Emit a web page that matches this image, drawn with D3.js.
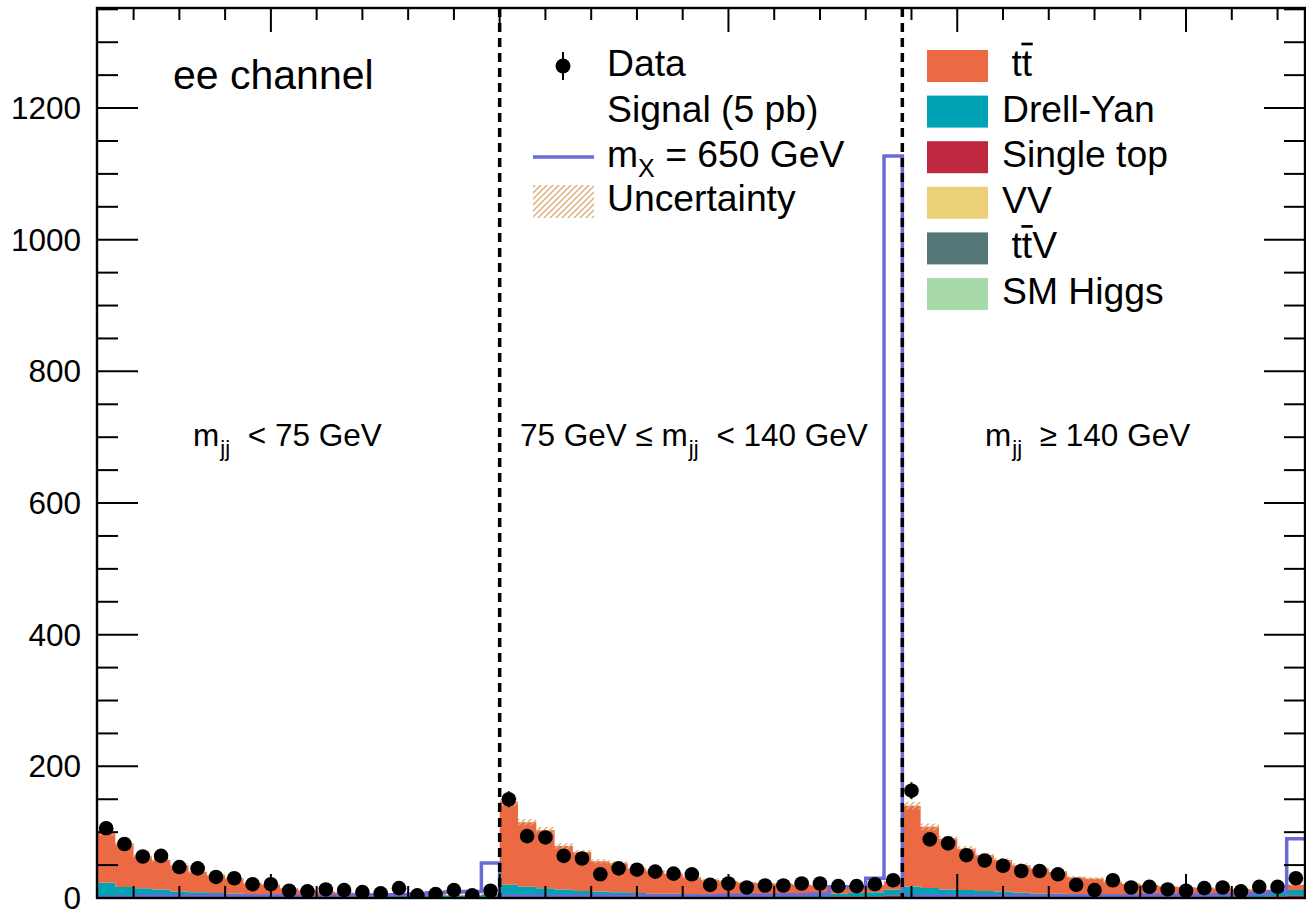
<!DOCTYPE html>
<html><head><meta charset="utf-8">
<script src="https://cdn.jsdelivr.net/npm/d3@7"></script>
<style>html,body{margin:0;padding:0;background:#fff;overflow:hidden;} svg{display:block;} text{font-family:"Liberation Sans",Arial,Helvetica,sans-serif;fill:#000;}</style>
</head><body><svg id="c" width="1306" height="909"></svg>
<script>
// ---------------- data (66 bins: 3 m_jj regions x 22 bins) ----------------
const yTicks = [0, 200, 400, 600, 800, 1000, 1200];
const regionLabels = [["m", "jj", " < 75 GeV"], ["75 GeV ≤ m", "jj", " < 140 GeV"], ["m", "jj", " ≥ 140 GeV"]];
const legendLeft = ["Data", "Signal (5 pb)", "m_X = 650 GeV", "Uncertainty"];
const legendRight = ["tt̄", "Drell-Yan", "Single top", "VV", "tt̄V", "SM Higgs"];

const ttbar = [
  77, 66, 48, 45, 40, 31, 27, 23, 17, 14, 10, 7, 5, 5, 4, 3, 3, 2, 2, 1, 1, 1,
  126, 98, 88, 66, 59, 46, 44, 37, 35, 30, 26, 22, 20, 19, 18, 17, 16, 15, 12, 11, 11, 12,
  123, 93, 77, 63, 54, 48, 42, 38, 33, 26, 24, 19, 17, 15, 13, 12, 11, 10, 9, 7, 5, 8];
const drellYan = [
  21, 15, 13, 11, 8, 7, 6, 5, 4, 4, 3, 3, 3, 2, 2, 2, 2, 2, 2, 2, 2, 3,
  18, 15, 13, 11, 9, 8, 7, 6, 5, 5, 4, 4, 4, 3, 3, 3, 3, 3, 4, 5, 6, 9,
  14, 12, 10, 9, 8, 7, 6, 5, 5, 4, 4, 4, 3, 3, 3, 3, 3, 3, 3, 4, 5, 8];
const singleTop = [
  1, 1, 1, 1, 1, 1, 1, 1, 1, 1, 1, 1, 1, 1, 1, 1, 1, 1, 1, 1, 1, 1,
  1, 1, 1, 1, 1, 1, 1, 1, 1, 1, 1, 1, 1, 1, 1, 1, 1, 1, 2, 2, 2, 3,
  2, 2, 2, 2, 2, 2, 1, 1, 1, 1, 1, 1, 1, 1, 1, 1, 1, 1, 1, 1, 2, 3];
const diboson = [
  0.6, 0.5, 0.5, 0.5, 0.4, 0.4, 0.4, 0.4, 0.3, 0.3, 0.3, 0.3, 0.3, 0.3, 0.3, 0.3, 0.3, 0.3, 0.3, 0.3, 0.3, 0.4,
  0.6, 0.5, 0.5, 0.5, 0.4, 0.4, 0.4, 0.4, 0.3, 0.3, 0.3, 0.3, 0.3, 0.3, 0.3, 0.3, 0.3, 0.3, 0.4, 0.4, 0.5, 0.6,
  0.6, 0.5, 0.5, 0.5, 0.4, 0.4, 0.4, 0.4, 0.3, 0.3, 0.3, 0.3, 0.3, 0.3, 0.3, 0.3, 0.3, 0.3, 0.3, 0.4, 0.4, 0.6];
const ttV = [
  0.3, 0.3, 0.3, 0.2, 0.2, 0.2, 0.2, 0.2, 0.2, 0.2, 0.1, 0.1, 0.1, 0.1, 0.1, 0.1, 0.1, 0.1, 0.1, 0.1, 0.1, 0.1,
  0.4, 0.3, 0.3, 0.3, 0.3, 0.2, 0.2, 0.2, 0.2, 0.2, 0.2, 0.2, 0.2, 0.1, 0.1, 0.1, 0.1, 0.1, 0.1, 0.2, 0.2, 0.3,
  0.5, 0.4, 0.4, 0.3, 0.3, 0.3, 0.3, 0.2, 0.2, 0.2, 0.2, 0.2, 0.2, 0.2, 0.2, 0.2, 0.1, 0.1, 0.1, 0.1, 0.2, 0.3];
const smHiggs = [
  0.1, 0.1, 0.1, 0.1, 0.1, 0.1, 0.1, 0.1, 0.1, 0.1, 0.1, 0.1, 0.1, 0.1, 0.1, 0.1, 0.1, 0.1, 0.1, 0.1, 0.1, 0.1,
  0.2, 0.2, 0.2, 0.2, 0.1, 0.1, 0.1, 0.1, 0.1, 0.1, 0.1, 0.1, 0.1, 0.1, 0.1, 0.1, 0.1, 0.1, 0.1, 0.1, 0.1, 0.2,
  0.2, 0.2, 0.2, 0.2, 0.1, 0.1, 0.1, 0.1, 0.1, 0.1, 0.1, 0.1, 0.1, 0.1, 0.1, 0.1, 0.1, 0.1, 0.1, 0.1, 0.1, 0.2];
const bkgUnc = [
  5, 4, 3, 3, 3, 2, 2, 2, 2, 1, 1, 1, 1, 1, 1, 1, 1, 1, 1, 1, 1, 1,
  6, 5, 5, 4, 3, 3, 3, 2, 2, 2, 2, 2, 2, 1, 1, 1, 1, 1, 1, 1, 1, 2,
  6, 5, 4, 4, 3, 3, 3, 2, 2, 2, 2, 2, 1, 1, 1, 1, 1, 1, 1, 1, 1, 1];
const signal = [
  1, 2, 3, 3, 3, 3, 3, 3, 3, 3, 3, 3, 3, 3, 4, 4, 5, 6, 8, 9, 10, 53,
  3, 3, 3, 3, 3, 3, 3, 3, 3, 3, 3, 3, 4, 4, 4, 5, 5, 6, 17, 17, 30, 1127,
  3, 3, 3, 3, 3, 3, 3, 3, 3, 3, 3, 3, 3, 4, 4, 4, 4, 5, 5, 7, 9, 90];
const data = [
  106, 82, 63, 64, 47, 45, 32, 30, 21, 21, 11, 10, 13, 12, 9, 7, 15, 4, 6, 12, 4, 11,
  150, 94, 92, 64, 60, 36, 45, 43, 40, 37, 36, 20, 22, 16, 19, 19, 22, 22, 18, 18, 21, 27,
  163, 89, 83, 65, 57, 49, 41, 41, 36, 20, 12, 27, 16, 17, 13, 11, 15, 16, 10, 17, 17, 30];
const regionEdges = [22, 44];
const xMinorTicks = [2, 4.5, 7, 9.5, 12, 14.5, 17, 19.5, 22, 24.5, 27, 29.5, 32, 34.5, 37, 39.5, 42, 44.5, 47, 49.5, 52, 54.5, 57, 59.5, 62, 64.5];
const xMajorTicks = [9.5, 22, 34.5, 47, 59.5];

const colors = {ttbar: "#ec6a43", drellYan: "#00a3b4", singleTop: "#c0283f", diboson: "#ecd078", ttV: "#557777", smHiggs: "#a8d9a8"};
const signalColor = "#6b6bd6";
const hatchColor = "#dcb07c";

// ---------------- layout ----------------
const nBins = data.length;
const F = {left: 97, right: 1305, top: 8, bottom: 898};
const x = d3.scaleLinear().domain([0, nBins]).range([F.left, F.right]);
const y = d3.scaleLinear().domain([0, 1352]).range([F.bottom, F.top]);
const svg = d3.select("#c");
const defs = svg.append("defs");
defs.append("clipPath").attr("id", "clip").append("rect")
  .attr("x", F.left).attr("y", F.top).attr("width", F.right - F.left).attr("height", F.bottom - F.top);
const pat = defs.append("pattern").attr("id", "hatch").attr("patternUnits", "userSpaceOnUse")
  .attr("width", 6).attr("height", 6);
pat.append("path").attr("d", "M-1,1 L1,-1 M0,6 L6,0 M5,7 L7,5")
  .attr("stroke", hatchColor).attr("stroke-width", 1.5);

const plot = svg.append("g").attr("clip-path", "url(#clip)");

// stacked backgrounds
const keys = ["smHiggs", "ttV", "diboson", "singleTop", "drellYan", "ttbar"];
const src = {ttbar, drellYan, singleTop, diboson, ttV, smHiggs};
const table = d3.range(nBins).map(i => {
  const r = {bin: i};
  keys.forEach(k => r[k] = src[k][i]);
  return r;
});
const series = d3.stack().keys(keys)(table);
const area = d3.area().x(p => x(p.x)).y0(p => y(p.y0)).y1(p => y(p.y1));
series.forEach(s => {
  const pts = [];
  s.forEach((d, i) => { pts.push({x: i, y0: d[0], y1: d[1]}); pts.push({x: i + 1, y0: d[0], y1: d[1]}); });
  plot.append("path").attr("d", area(pts)).attr("fill", colors[s.key]);
});

// uncertainty band
const topSeries = series[series.length - 1];
const uPts = [];
topSeries.forEach((d, i) => {
  uPts.push({x: i, y0: d[1] - bkgUnc[i], y1: d[1] + bkgUnc[i]});
  uPts.push({x: i + 1, y0: d[1] - bkgUnc[i], y1: d[1] + bkgUnc[i]});
});
plot.append("path").attr("d", area(uPts)).attr("fill", "url(#hatch)");

// signal step line
const sPts = [];
signal.forEach((v, i) => { sPts.push([i, v]); sPts.push([i + 1, v]); });
plot.append("path").attr("d", d3.line().x(p => x(p[0])).y(p => y(p[1]))(sPts))
  .attr("fill", "none").attr("stroke", signalColor).attr("stroke-width", 3.5);

// region separators
regionEdges.forEach(e => {
  svg.append("line").attr("x1", x(e)).attr("x2", x(e)).attr("y1", F.top).attr("y2", F.bottom)
    .attr("stroke", "#000").attr("stroke-width", 3.5).attr("stroke-dasharray", "9,6");
});

// data points
const dg = plot.append("g");
data.forEach((v, i) => {
  const cx = x(i + 0.5), e = Math.sqrt(v);
  dg.append("line").attr("x1", cx).attr("x2", cx).attr("y1", y(v - e)).attr("y2", y(v + e))
    .attr("stroke", "#000").attr("stroke-width", 2);
  dg.append("circle").attr("cx", cx).attr("cy", y(v)).attr("r", 7.3).attr("fill", "#000");
});

// frame & ticks
const ax = svg.append("g").attr("stroke", "#000").attr("stroke-width", 2);
ax.append("rect").attr("x", F.left).attr("y", F.top).attr("width", F.right - F.left)
  .attr("height", F.bottom - F.top).attr("fill", "none").attr("stroke-width", 2.4);
const yMinor = d3.range(0, 1352, 50);
yMinor.forEach(v => {
  const len = (v % 200 === 0) ? 41 : 21;
  ax.append("line").attr("x1", F.left).attr("x2", F.left + len).attr("y1", y(v)).attr("y2", y(v));
  ax.append("line").attr("x1", F.right).attr("x2", F.right - len).attr("y1", y(v)).attr("y2", y(v));
});
xMinorTicks.forEach(t => {
  const len = xMajorTicks.includes(t) ? 24 : 12;
  ax.append("line").attr("x1", x(t)).attr("x2", x(t)).attr("y1", F.top).attr("y2", F.top + len);
  ax.append("line").attr("x1", x(t)).attr("x2", x(t)).attr("y1", F.bottom).attr("y2", F.bottom - len);
});
svg.append("g").selectAll("text").data(yTicks).join("text")
  .attr("x", 81).attr("y", d => y(d)).attr("dy", "0.35em").attr("text-anchor", "end")
  .attr("font-size", 31.5).text(d => d);

// channel label
svg.append("text").attr("x", 173).attr("y", 89).attr("font-size", 41).text("ee channel");

// region labels
const regionPos = [[193, 446], [520, 446], [985, 446]];
regionLabels.forEach((lab, k) => {
  const t = svg.append("text").attr("x", regionPos[k][0]).attr("y", regionPos[k][1]).attr("font-size", 31.5);
  t.append("tspan").text(lab[0]);
  t.append("tspan").attr("font-size", 22).attr("dx", 1).attr("dy", 10).text(lab[1]);
  t.append("tspan").attr("dx", 9).attr("dy", -10).text(lab[2]);
});

// left legend
const LL = svg.append("g");
LL.append("line").attr("x1", 563).attr("x2", 563).attr("y1", 52).attr("y2", 80).attr("stroke", "#000").attr("stroke-width", 2);
LL.append("circle").attr("cx", 563).attr("cy", 66).attr("r", 7.5).attr("fill", "#000");
LL.append("line").attr("x1", 533).attr("x2", 594).attr("y1", 157).attr("y2", 157).attr("stroke", signalColor).attr("stroke-width", 3.5);
LL.append("rect").attr("x", 533).attr("y", 185).attr("width", 61).attr("height", 33).attr("fill", "url(#hatch)");
const llY = [76, 122, 167, 211];
LL.append("text").attr("x", 607).attr("y", llY[0]).attr("font-size", 37.3).text(legendLeft[0]);
LL.append("text").attr("x", 607).attr("y", llY[1]).attr("font-size", 37.3).text(legendLeft[1]);
const mx = LL.append("text").attr("x", 607).attr("y", llY[2]).attr("font-size", 37.3);
const mxParts = legendLeft[2].split("_");
mx.append("tspan").text(mxParts[0]);
mx.append("tspan").attr("font-size", 25).attr("dy", 10).text(mxParts[1].charAt(0));
mx.append("tspan").attr("dy", -10).text(mxParts[1].slice(1));
LL.append("text").attr("x", 607).attr("y", llY[3]).attr("font-size", 37.3).text(legendLeft[3]);

// right legend
const legKeys = ["ttbar", "drellYan", "singleTop", "diboson", "ttV", "smHiggs"];
const RL = svg.append("g");
legKeys.forEach((k, j) => {
  const boxTop = 50 + j * 45.6;
  RL.append("rect").attr("x", 927).attr("y", boxTop).attr("width", 61).attr("height", 32).attr("fill", colors[k]);
  const lab = legendRight[j];
  const isTT = lab.startsWith("tt̄");
  const tx = isTT ? 1011.5 : 1002;
  if (isTT) {
    const rest = lab.replace("tt̄", "");
    RL.append("text").attr("x", tx).attr("y", boxTop + 26).attr("font-size", 37.3).text("tt" + rest);
    const tEl = RL.append("text").attr("x", -100).attr("y", -100).attr("font-size", 37.3).text("t");
    const tw = tEl.node().getComputedTextLength();
    tEl.remove();
    RL.append("line").attr("x1", tx + tw - 0.5).attr("x2", tx + 2 * tw + 0.5).attr("y1", boxTop - 6).attr("y2", boxTop - 6)
      .attr("stroke", "#000").attr("stroke-width", 2.7);
  } else {
    RL.append("text").attr("x", tx).attr("y", boxTop + 26).attr("font-size", 37.3).text(lab);
  }
});
</script></body></html>
